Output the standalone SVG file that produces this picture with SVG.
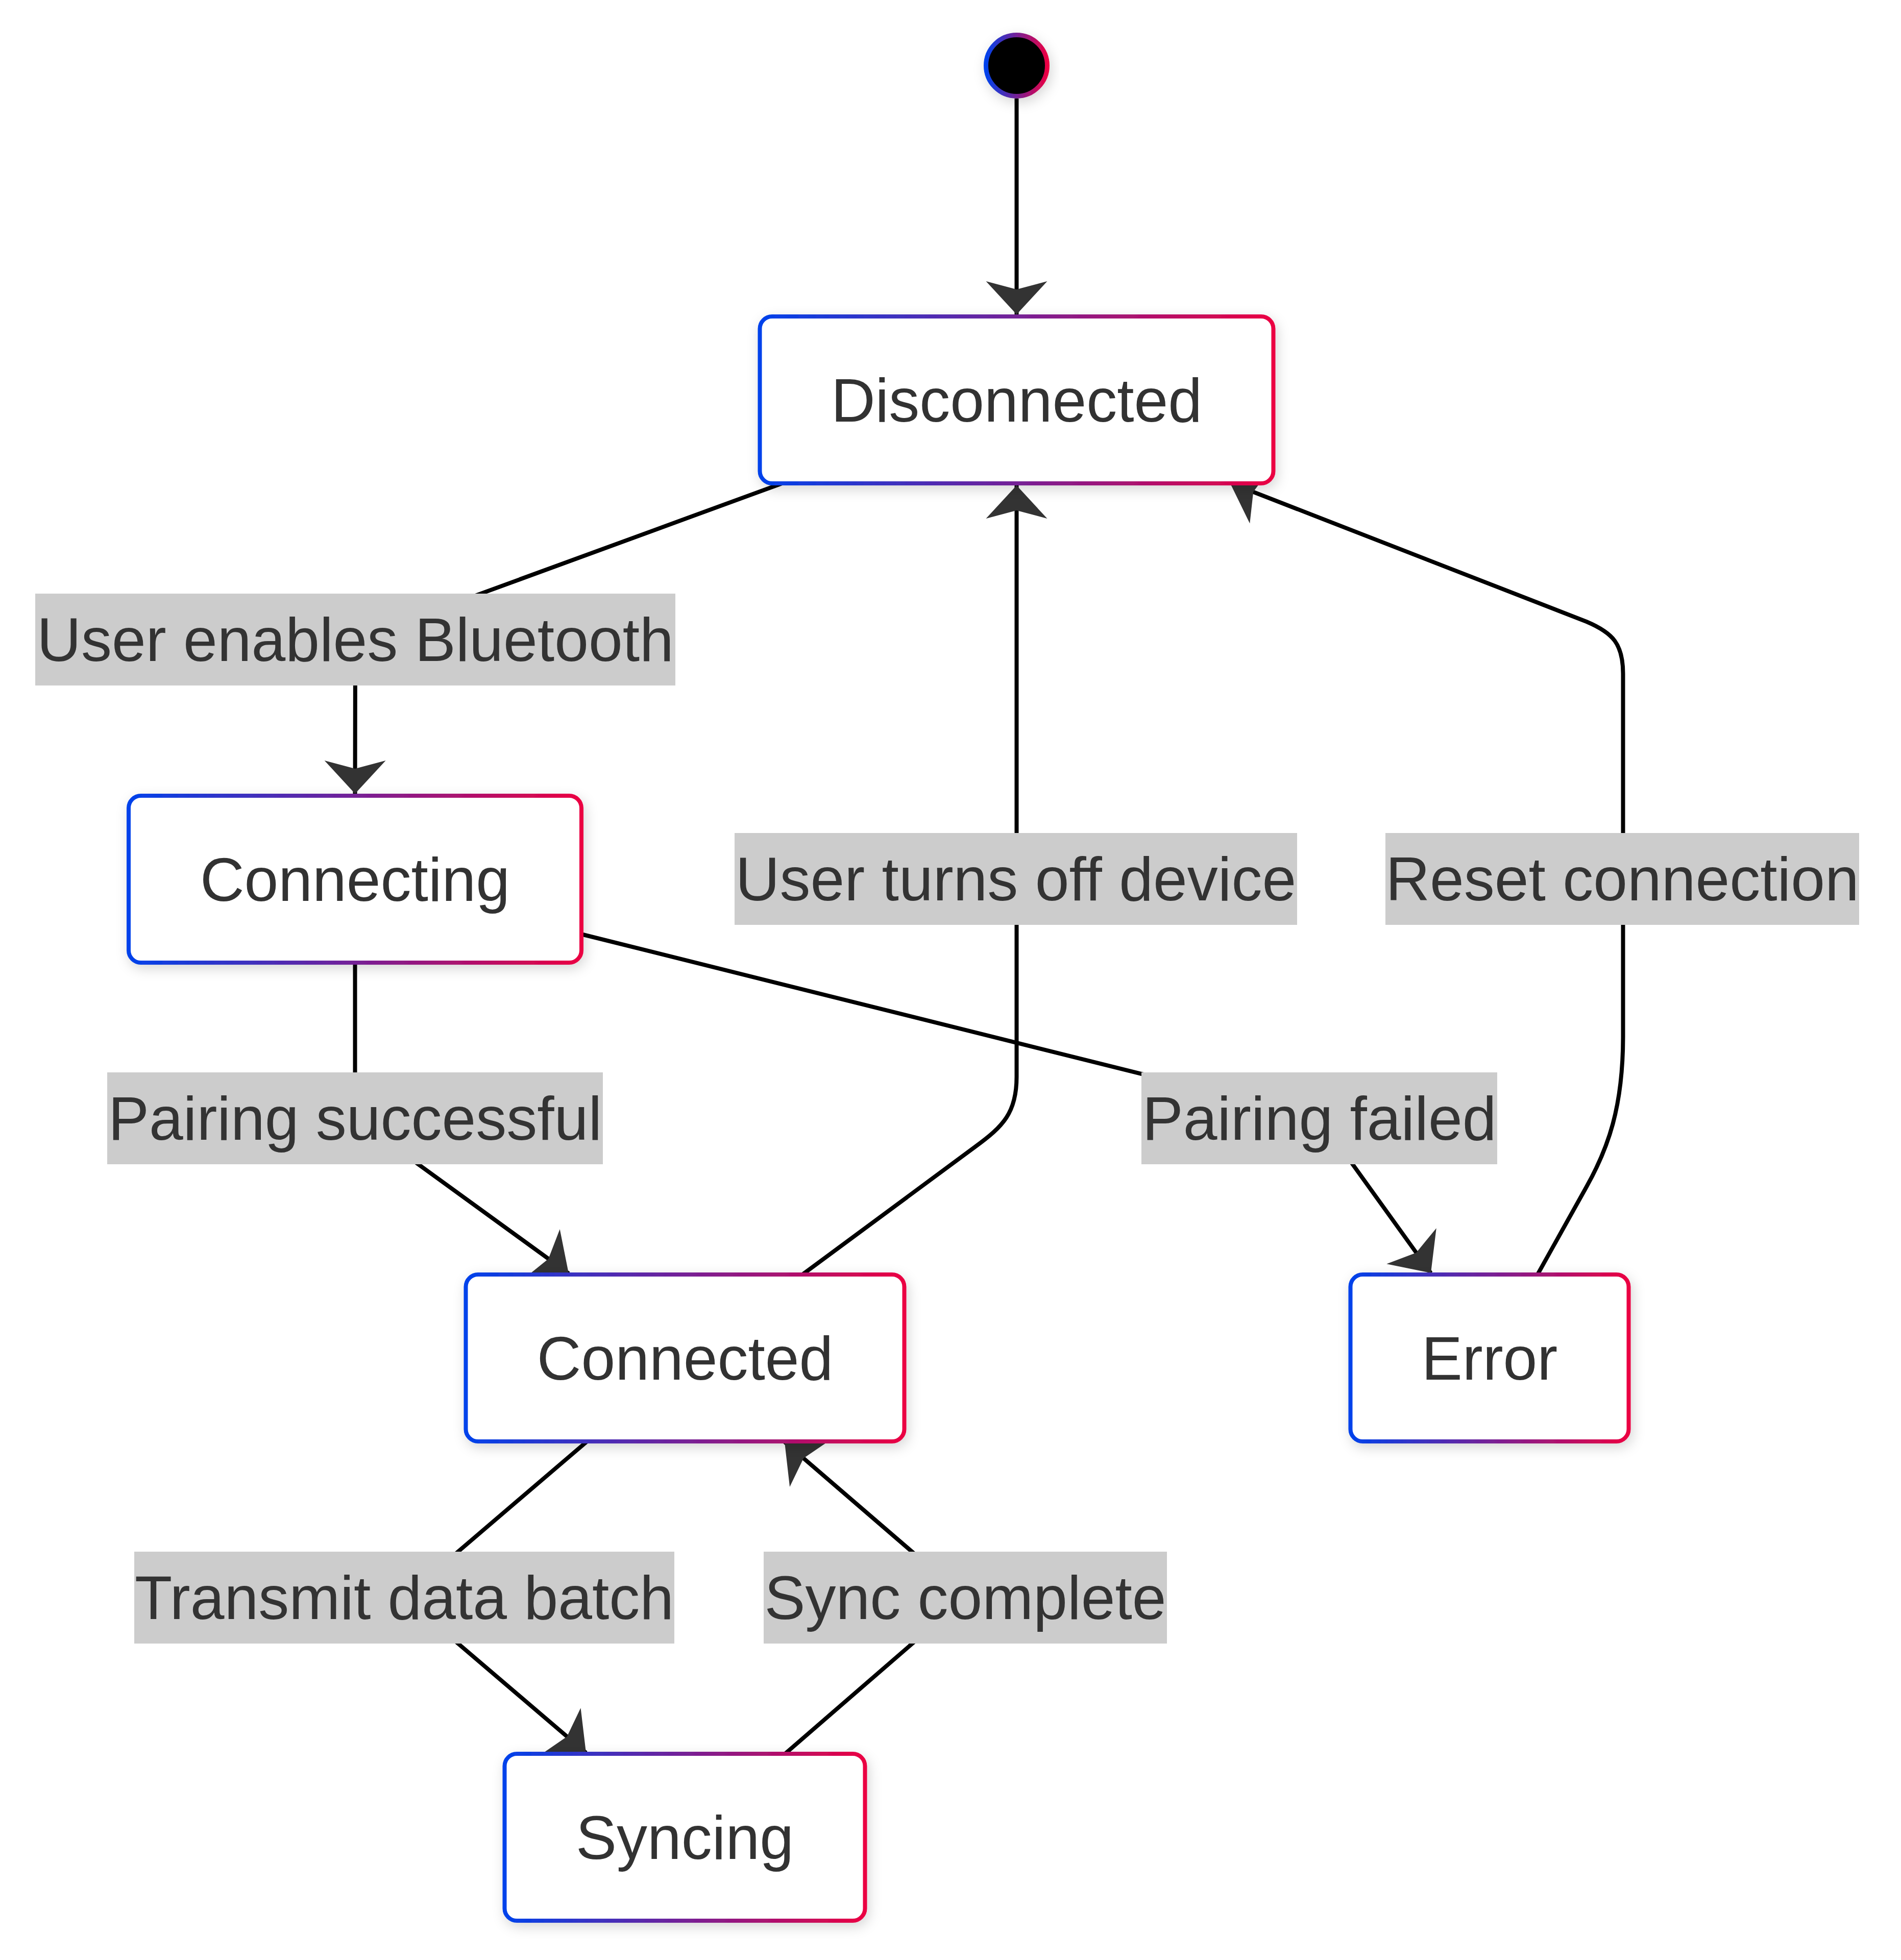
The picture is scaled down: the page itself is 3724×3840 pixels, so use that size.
<svg xmlns="http://www.w3.org/2000/svg" width="3724" height="3840" viewBox="0 0 3724 3840">
<style>
.edge{fill:none;stroke:#000;stroke-width:8;marker-end:url(#arr)}
.lbl rect{fill:#cccccc}
.txt{font-family:"Liberation Sans",Arial,Helvetica,sans-serif;font-size:120px;fill:#333;text-anchor:middle}
.node rect{fill:#fff;stroke:url(#grad);stroke-width:8}
.node{filter:url(#shadow)}
</style>
<defs>
<linearGradient id="grad" x1="0" y1="0" x2="1" y2="0">
<stop offset="0" stop-color="#0042eb"/>
<stop offset="1" stop-color="#eb0042"/>
</linearGradient>
<filter id="shadow" x="-20%" y="-30%" width="140%" height="160%">
<feDropShadow dx="4" dy="8" stdDeviation="12" flood-color="#000" flood-opacity="0.16"/>
</filter>
<marker id="arr" viewBox="-70 -65 75 130" refX="0" refY="0" markerWidth="75" markerHeight="130" markerUnits="userSpaceOnUse" orient="auto">
<path d="M0,0 L-65,-60 L-49,0 L-65,60 Z" fill="#333"/>
</marker>
</defs>
<rect width="3724" height="3840" fill="#fff"/>
<g id="connectors">
<path class="edge" d="M1991.5,193 L1991.5,616"/>
<path class="edge" d="M1532,947 L696,1253 L695.5,1555"/>
<path class="edge" d="M695.5,1885 L695.5,2191 L1114,2495"/>
<path class="edge" d="M1138,1830 L2585,2191 L2803,2494"/>
<path class="edge" d="M1572,2497 L1910,2247 C1965,2207 1991.5,2180 1991.5,2110 L1991.5,951"/>
<path class="edge" d="M3012,2497 L3108,2325 C3150,2250 3179.5,2170 3179.5,2030 L3179.5,1320 C3179.5,1262 3160,1240 3108,1218 L2409.5,946"/>
<path class="edge" d="M1150,2824 L792,3130 L1148,3434"/>
<path class="edge" d="M1539,3435 L1891,3130 L1537,2825"/>
</g>
<g id="edge-labels">
<g class="lbl"><rect x="69" y="1163" width="1254" height="180"/><text class="txt" x="696" y="1295">User enables Bluetooth</text></g>
<g class="lbl"><rect x="210" y="2101" width="971" height="180"/><text class="txt" x="695.5" y="2233">Pairing successful</text></g>
<g class="lbl"><rect x="2236" y="2101" width="697" height="180"/><text class="txt" x="2584.5" y="2233">Pairing failed</text></g>
<g class="lbl"><rect x="1439" y="1632" width="1102" height="180"/><text class="txt" x="1990" y="1764">User turns off device</text></g>
<g class="lbl"><rect x="2714" y="1632" width="928" height="180"/><text class="txt" x="3178" y="1764">Reset connection</text></g>
<g class="lbl"><rect x="263" y="3040" width="1058" height="180"/><text class="txt" x="792" y="3172">Transmit data batch</text></g>
<g class="lbl"><rect x="1496" y="3040" width="790" height="180"/><text class="txt" x="1891" y="3172">Sync complete</text></g>
</g>
<g id="start" style="filter:url(#shadow)">
<circle cx="1991.5" cy="128.5" r="60" fill="#000" stroke="url(#grad)" stroke-width="9"/>
</g>
<g id="Disconnected" class="node">
<rect x="1488.5" y="620" width="1006" height="327" rx="24" ry="24"/>
<text class="txt" x="1991.5" y="826">Disconnected</text>
</g>
<g id="Connecting" class="node">
<rect x="252" y="1559" width="887" height="327" rx="24" ry="24"/>
<text class="txt" x="695.5" y="1765">Connecting</text>
</g>
<g id="Connected" class="node">
<rect x="912.5" y="2497" width="859" height="327" rx="24" ry="24"/>
<text class="txt" x="1342" y="2703">Connected</text>
</g>
<g id="Error" class="node">
<rect x="2645.5" y="2497" width="545" height="327" rx="24" ry="24"/>
<text class="txt" x="2918" y="2703">Error</text>
</g>
<g id="Syncing" class="node">
<rect x="988.5" y="3436" width="706" height="327" rx="24" ry="24"/>
<text class="txt" x="1341.5" y="3642">Syncing</text>
</g>
</svg>
